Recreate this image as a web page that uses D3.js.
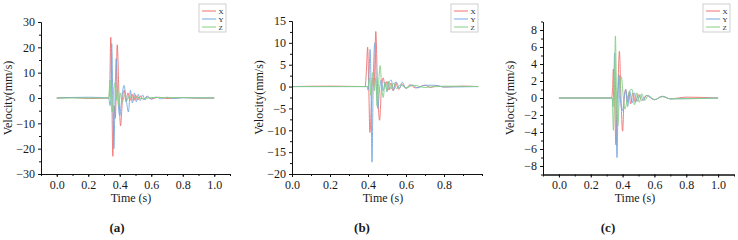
<!DOCTYPE html>
<html>
<head>
<meta charset="utf-8">
<script src="https://cdn.jsdelivr.net/npm/d3@7/dist/d3.min.js"></script>
<style>
  html, body { margin: 0; padding: 0; background: #fff; }
  svg text { font-family: "Liberation Serif", "Times New Roman", Times, serif; fill: #1a1a1a; }
</style>
</head>
<body>
<svg id="chart" width="738" height="240"></svg>
<script>
// series names and colours
const seriesNames = ['X', 'Y', 'Z'];
const seriesColors = ['#f07070', '#74a9e0', '#84cf84'];

// panel (a): [time s, velocity mm/s]
const aX = [[0,0],[0.1,0.2],[0.2,-0.2],[0.33,0],[0.336,3],[0.343,24],[0.35,0],[0.356,-23],[0.364,-3],[0.372,-8],[0.384,21],[0.395,2],[0.405,-11],[0.418,0],[0.428,3],[0.44,-1.5],[0.452,2],[0.465,-1],[0.478,1.5],[0.49,-1],[0.5,1.2],[0.515,-0.8],[0.53,0.8],[0.55,-0.6],[0.57,0.5],[0.6,-0.3],[0.65,0.3],[0.7,-0.2],[0.8,0.2],[0.9,-0.1],[1.0,0]];
const aY = [[0,0],[0.2,0.3],[0.33,0],[0.338,-3],[0.342,-2],[0.349,21.5],[0.356,0],[0.363,-20],[0.37,0],[0.377,15.5],[0.388,0],[0.4,-7],[0.413,0],[0.427,5],[0.44,0],[0.455,-5.5],[0.468,3],[0.48,-2],[0.493,2],[0.505,-1.5],[0.518,1.5],[0.53,-1],[0.545,1.2],[0.56,-0.8],[0.575,0.8],[0.6,-0.5],[0.63,0.4],[0.66,-0.3],[0.7,0.3],[0.75,-0.2],[0.8,0.1],[1.0,0]];
const aZ = [[0,0],[0.33,0],[0.338,7],[0.345,-2],[0.352,-5.5],[0.36,2],[0.37,6],[0.378,-1],[0.385,5],[0.393,-3],[0.405,2],[0.415,-2],[0.43,1],[0.445,-1],[0.46,0.8],[0.48,-0.5],[0.5,0.4],[0.55,-0.3],[0.6,0.2],[1.0,0]];

// panel (b)
const bX = [[0,0],[0.2,0.1],[0.385,0],[0.392,4],[0.398,9],[0.404,0],[0.41,-10.5],[0.418,-4],[0.424,2],[0.432,0],[0.441,12.6],[0.45,0],[0.461,-7.7],[0.47,-1],[0.48,2],[0.49,0],[0.5,1.2],[0.51,-0.8],[0.52,0.8],[0.532,-1],[0.545,1],[0.56,-0.6],[0.58,0.5],[0.6,-0.4],[0.62,0.4],[0.65,-0.3],[0.7,0.3],[0.73,-0.2],[0.76,0.2],[0.8,-0.1],[0.9,0.1],[0.98,0]];
const bY = [[0,0],[0.395,0],[0.4,-0.8],[0.405,2],[0.411,8.5],[0.416,0],[0.421,-17.3],[0.427,0],[0.436,10],[0.444,0],[0.452,-5],[0.46,-1],[0.47,1.5],[0.48,-1],[0.49,1],[0.5,-1.2],[0.51,1],[0.522,1.5],[0.535,-0.8],[0.55,1],[0.565,-0.5],[0.58,1],[0.6,-0.4],[0.63,0.4],[0.66,-0.3],[0.7,0.3],[0.75,0.3],[0.8,-0.1],[0.98,0]];
const bZ = [[0,0],[0.4,0],[0.408,2],[0.415,-2],[0.425,3.2],[0.433,-1],[0.44,2],[0.448,-4.5],[0.455,0],[0.464,4.8],[0.472,0],[0.48,-2.5],[0.49,1],[0.5,-1],[0.51,1.2],[0.52,-0.6],[0.535,0.8],[0.55,-0.5],[0.57,0.4],[0.6,-0.3],[0.64,0.3],[0.7,-0.2],[0.8,0.1],[0.98,0]];

// panel (c)
const cX = [[0,0],[0.33,0],[0.337,1],[0.342,3.4],[0.35,0],[0.358,-5.5],[0.364,-1],[0.37,1],[0.38,5.5],[0.39,0],[0.4,-3.9],[0.41,0],[0.42,1],[0.43,-0.5],[0.44,0.6],[0.45,-0.7],[0.465,0.6],[0.48,-0.5],[0.5,0.4],[0.52,-0.3],[0.55,0.3],[0.6,-0.2],[0.65,0.2],[0.7,-0.1],[0.8,0.1],[1.0,0]];
const cY = [[0,0],[0.335,0],[0.34,-1],[0.345,2],[0.35,5.3],[0.357,0],[0.365,-7],[0.372,0],[0.378,2.7],[0.385,0],[0.4,-1.5],[0.41,0],[0.42,1],[0.432,-1],[0.445,0.8],[0.46,-0.6],[0.475,0.6],[0.49,-0.4],[0.51,0.4],[0.53,-0.3],[0.55,0.3],[0.6,-0.2],[0.65,0.2],[0.7,-0.1],[1.0,0]];
const cZ = [[0,0],[0.335,0],[0.342,-3.8],[0.348,0],[0.355,7.3],[0.362,0],[0.37,-3.3],[0.38,0],[0.392,2.5],[0.405,0],[0.415,-1.3],[0.43,0],[0.445,0.9],[0.46,1],[0.475,-0.8],[0.49,0.6],[0.505,-0.5],[0.52,0.5],[0.54,-0.3],[0.56,0.3],[0.6,-0.2],[0.65,0.15],[0.7,-0.1],[1.0,0]];

// ticks
const xTicksLong = [0, 0.2, 0.4, 0.6, 0.8, 1.0];
const xMinorLong = [-0.1, 0, 0.1, 0.2, 0.3, 0.4, 0.5, 0.6, 0.7, 0.8, 0.9, 1.0, 1.1];
const xTicksB = [0, 0.2, 0.4, 0.6, 0.8];
const xMinorB = [0, 0.1, 0.2, 0.3, 0.4, 0.5, 0.6, 0.7, 0.8, 0.9, 1.0];
const yTicksA = [-30, -20, -10, 0, 10, 20, 30];
const yMinorA = [-25, -15, -5, 5, 15, 25];
const yTicksB = [-20, -15, -10, -5, 0, 5, 10, 15];
const yMinorB = [-17.5, -12.5, -7.5, -2.5, 2.5, 7.5, 12.5];
const yTicksC = [-8, -6, -4, -2, 0, 2, 4, 6, 8];
const yMinorC = [-9, -7, -5, -3, -1, 1, 3, 5, 7, 9];
const panelLabels = ['(a)', '(b)', '(c)'];

const panels = [
  { box: [41, 22, 230, 174], xDom: [-0.1, 1.1], yDom: [-30, 30], titleX: 131, labelX: 117,
    xTicks: xTicksLong, xMinor: xMinorLong, yTicks: yTicksA, yMinor: yMinorA, series: [aX, aY, aZ] },
  { box: [292, 21, 482, 174], xDom: [0, 1.0], yDom: [-20, 15], titleX: 383, labelX: 362,
    xTicks: xTicksB, xMinor: xMinorB, yTicks: yTicksB, yMinor: yMinorB, series: [bX, bY, bZ] },
  { box: [543, 21.5, 734, 174.5], xDom: [-0.1, 1.1], yDom: [-9, 9], titleX: 635, labelX: 608,
    xTicks: xTicksLong, xMinor: xMinorLong, yTicks: yTicksC, yMinor: yMinorC, series: [cX, cY, cZ] }
];

const svg = d3.select('#chart');
svg.append('rect').attr('width', 738).attr('height', 240).attr('fill', '#fff');

function styleAxis(g){
  g.attr('font-family', null).attr('font-size', null);
  g.selectAll('path').attr('stroke', '#111').attr('stroke-width', 1);
  g.selectAll('line').attr('stroke', '#111').attr('stroke-width', 1);
  g.selectAll('text').attr('font-size', 12).attr('fill', '#1a1a1a');
}

function drawPanel(p, i){
  let [x0, y0, x1, y1] = p.box;
  let x = d3.scaleLinear().domain(p.xDom).range([x0, x1]);
  let y = d3.scaleLinear().domain(p.yDom).range([y1, y0]);
  let g = svg.append('g');

  let line = d3.line()
    .x(d => x(d[0]))
    .y(d => y(d[1]))
    .curve(d3.curveMonotoneX);

  p.series.forEach((s, k) => {
    g.append('path')
      .datum(s)
      .attr('d', line)
      .attr('fill', 'none')
      .attr('stroke', seriesColors[k])
      .attr('stroke-width', 1)
      .attr('stroke-opacity', 0.9);
  });

  // minor ticks first, majors with labels on top
  g.append('g').attr('transform', `translate(0,${y1})`)
    .call(d3.axisBottom(x).tickValues(p.xMinor).tickSize(2).tickSizeOuter(0).tickFormat(''))
    .call(styleAxis);
  g.append('g').attr('transform', `translate(0,${y1})`)
    .call(d3.axisBottom(x).tickValues(p.xTicks).tickSize(3).tickSizeOuter(0).tickPadding(3).tickFormat(d3.format('.1f')))
    .call(styleAxis);
  g.append('g').attr('transform', `translate(${x0},0)`)
    .call(d3.axisLeft(y).tickValues(p.yMinor).tickSize(2).tickSizeOuter(0).tickFormat(''))
    .call(styleAxis);
  g.append('g').attr('transform', `translate(${x0},0)`)
    .call(d3.axisLeft(y).tickValues(p.yTicks).tickSize(3).tickSizeOuter(0).tickPadding(3).tickFormat(d3.format('d')))
    .call(styleAxis);

  g.append('text')
    .attr('x', p.titleX).attr('y', 202)
    .attr('text-anchor', 'middle')
    .attr('font-size', 12)
    .text('Time (s)');

  g.append('text')
    .attr('transform', `translate(${x0 - 29},${(y0 + y1) / 2}) rotate(-90)`)
    .attr('text-anchor', 'middle')
    .attr('font-size', 12)
    .text('Velocity(mm/s)');

  g.append('text')
    .attr('x', p.labelX).attr('y', 232)
    .attr('text-anchor', 'middle')
    .attr('font-size', 13)
    .attr('font-weight', 'bold')
    .text(panelLabels[i]);

  // legend
  let lw = 27, lh = 28;
  let lg = g.append('g').attr('transform', `translate(${x1 - 4 - lw},4)`);
  lg.append('rect').attr('width', lw).attr('height', lh)
    .attr('fill', '#fff').attr('stroke', '#c4c4c4').attr('stroke-width', 0.8);
  seriesNames.forEach((n, k) => {
    let ly = 7 + k * 8;
    lg.append('line')
      .attr('x1', 3).attr('x2', 17).attr('y1', ly).attr('y2', ly)
      .attr('stroke', seriesColors[k]).attr('stroke-width', 1);
    lg.append('text')
      .attr('x', 19.5).attr('y', ly + 2.5)
      .attr('font-size', 7).attr('fill', '#555')
      .text(n);
  });
}

panels.forEach(drawPanel);
</script>
</body>
</html>
